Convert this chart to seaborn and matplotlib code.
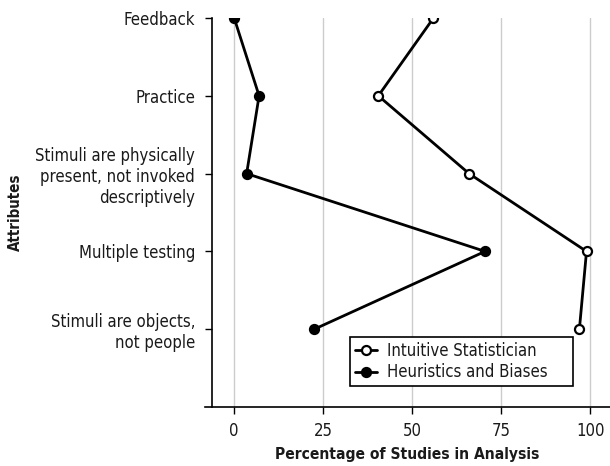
import numpy as np
import pandas as pd
import matplotlib.pyplot as plt
import seaborn as sns

attributes = [
    "Feedback",
    "Practice",
    "Stimuli are physically\npresent, not invoked\ndescriptively",
    "Multiple testing",
    "Stimuli are objects,\nnot people",
]
intuitive_statistician = [56, 40.5, 66, 99, 97]
heuristics_biases = [0, 7, 3.5, 70.5, 22.5]
x_ticks = [0, 25, 50, 75, 100]


def charts_setup():
    sns.set_theme(style="white")
    plt.rcParams["font.family"] = ["DejaVu Sans"]
    plt.rcParams["font.stretch"] = "condensed"
    plt.rcParams["text.color"] = "#1a1a1a"
    plt.rcParams["axes.labelcolor"] = "#1a1a1a"
    plt.rcParams["xtick.labelcolor"] = "#1a1a1a"
    plt.rcParams["ytick.labelcolor"] = "#1a1a1a"
    plt.rcParams["axes.edgecolor"] = "black"


def plot_attributes():
    pos = np.arange(len(attributes))
    data = pd.DataFrame(
        {
            "pos": np.concatenate([pos, pos]),
            "pct": intuitive_statistician + heuristics_biases,
            "group": ["Intuitive Statistician"] * len(pos)
            + ["Heuristics and Biases"] * len(pos),
        }
    )

    fig = plt.figure(figsize=(6.1, 4.66), dpi=100)
    ax = fig.add_axes([205 / 610, 1 - 407 / 466, 405 / 610, 389 / 466])

    # vertical grid lines
    for t in x_ticks:
        ax.axvline(t, color="#cccccc", lw=1, zorder=0)

    for group, face in [("Intuitive Statistician", "white"), ("Heuristics and Biases", "black")]:
        sns.lineplot(
            data=data[data["group"] == group],
            x="pct",
            y="pos",
            sort=False,
            estimator=None,
            color="black",
            lw=2,
            marker="o",
            markersize=6.5,
            markerfacecolor=face,
            markeredgecolor="black",
            markeredgewidth=1.6,
            label=group,
            ax=ax,
        )

    ax.set_xlim(-8.2, 105.6)
    ax.set_ylim(5, 0)
    ax.set_xticks(x_ticks)
    ax.set_yticks(pos)
    ax.set_yticklabels(attributes, linespacing=1.2)
    ax.tick_params(axis="both", labelsize=12, length=5, width=1, color="black",
                   direction="out", bottom=True, left=True)
    ax.tick_params(axis="y", pad=7)
    ax.tick_params(axis="x", pad=6)

    for side in ["top", "right"]:
        ax.spines[side].set_visible(False)
    ax.spines["left"].set_position(("data", -6.3))
    ax.spines["left"].set_linewidth(1.2)
    ax.spines["bottom"].set_linewidth(1.2)

    ax.set_xlabel("Percentage of Studies in Analysis", fontsize=11.2, fontweight="bold", labelpad=5)
    ax.set_ylabel("Attributes", fontsize=10.8, fontweight="bold")
    ax.yaxis.set_label_coords(-0.45, 0.5)

    # legend box spans the same area as in the original figure
    leg = ax.legend(
        loc="upper left",
        bbox_to_anchor=(
            (350 - 205) / 405,
            (407 - 382) / 389,
            (573 - 350) / 405,
            (382 - 337) / 389,
        ),
        mode="expand",
        borderaxespad=0,
        frameon=True,
        fancybox=False,
        framealpha=1,
        edgecolor="black",
        fontsize=12,
        handlelength=1.3,
        borderpad=0.3,
        labelspacing=0.2,
        handletextpad=0.6,
    )
    leg.get_frame().set_linewidth(1.2)

    fig.savefig("out.png", dpi=100)


def main():
    charts_setup()
    plot_attributes()


if __name__ == "__main__":
    main()
